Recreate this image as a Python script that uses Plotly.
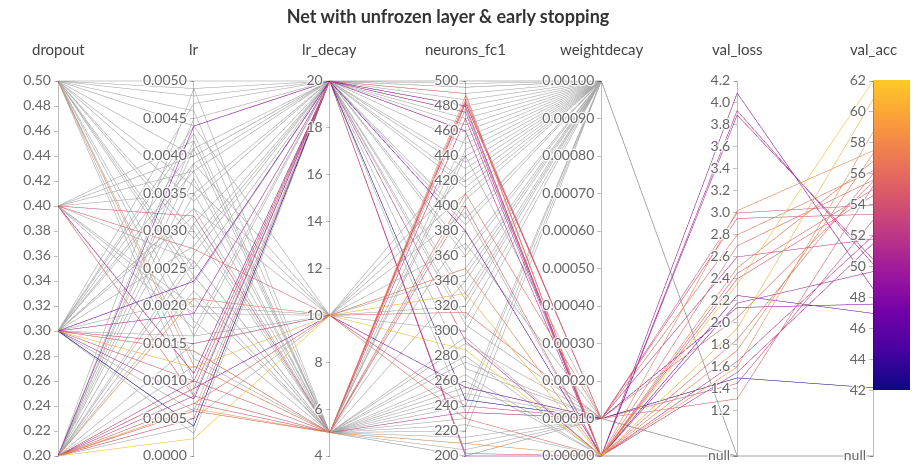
import plotly.graph_objects as go

title = "Net with unfrozen layer & early stopping"
dim_labels = ["dropout", "lr", "lr_decay", "neurons_fc1", "weightdecay", "val_loss", "val_acc"]

# ---- runs with results (coloured by val_acc) ----
c_dropout = [0.2, 0.3, 0.4, 0.4, 0.2, 0.2, 0.2, 0.3, 0.2, 0.3, 0.3, 0.4, 0.2,
             0.3, 0.2, 0.3, 0.2, 0.2, 0.3, 0.2, 0.5, 0.2, 0.3, 0.2, 0.2, 0.4]
c_lr = [0.0044, 0.0019, 0.0011, 0.0032, 0.0007, 0.0021, 0.0008, 0.00233, 0.0009,
        0.00076, 0.0004, 0.00276, 0.00023, 0.00118, 0.00063, 0.0014, 0.0009, 0.0006,
        0.0010, 0.0005, 0.0012, 0.0007, 0.0015, 0.0010, 0.0006, 0.0008]
c_lr_decay = [20, 20, 20, 5, 5, 10, 5, 20, 10, 20, 20, 10, 10,
              10, 5, 5, 20, 5, 5, 20, 5, 10, 10, 20, 5, 5]
c_neurons = [480, 475, 460, 485, 482, 350, 235, 380, 255, 200, 245, 315, 285,
             330, 210, 410, 490, 478, 400, 202, 488, 230, 240, 292, 470, 483]
c_wd = [0, 0, 0, 0.0001, 0.0001, 0, 0.0001, 0, 0.0001, 0, 0.0001, 0.0001, 0,
        0, 0, 0.0001, 0, 0, 0, 0, 0, 0, 0.0001, 0, 0, 0.0001]
c_val_loss = [4.09, 3.93, 3.89, 3.00, 2.95, 3.02, 2.60, 2.25, 2.14, 2.18, 1.50, 1.31, 2.35,
              1.95, 1.60, 2.80, 2.70, 2.50, 2.45, 2.40, 1.75, 1.85, 1.45, 1.65, 1.55, 2.05]
c_val_acc = [48.6, 50.2, 50.5, 54.0, 53.4, 57.5, 51.8, 47.0, 47.6, 49.7, 42.2, 55.2, 62.0,
             60.8, 58.7, 56.2, 55.6, 56.8, 55.0, 54.6, 57.3, 56.0, 53.0, 52.0, 51.5, 55.5]

# ---- runs without results (null val_loss / val_acc, drawn grey) ----
g_dropout = [0.5, 0.2, 0.5, 0.3, 0.5, 0.4, 0.2, 0.5, 0.3, 0.2, 0.5, 0.4, 0.3, 0.2, 0.5,
             0.3, 0.2, 0.4, 0.5, 0.3, 0.2, 0.2, 0.5, 0.3, 0.4, 0.2, 0.5, 0.3, 0.2, 0.5,
             0.4, 0.3, 0.2, 0.5, 0.2, 0.3, 0.4, 0.5, 0.2, 0.3, 0.5, 0.2, 0.4, 0.3, 0.5,
             0.2, 0.3, 0.5, 0.2, 0.4, 0.3, 0.5, 0.2, 0.3, 0.5, 0.2, 0.4, 0.3, 0.2, 0.5]
g_lr = [0.0050, 0.0049, 0.0013, 0.0047, 0.0036, 0.0042, 0.0004, 0.0024, 0.0041, 0.0039,
        0.0008, 0.0035, 0.0028, 0.0045, 0.0018, 0.0033, 0.0026, 0.0040, 0.0049, 0.0006,
        0.0022, 0.0031, 0.0016, 0.0043, 0.0011, 0.0037, 0.0029, 0.0021, 0.0015, 0.0044,
        0.0026, 0.0003, 0.0041, 0.0034, 0.0012, 0.0038, 0.0019, 0.0046, 0.0009, 0.0032,
        0.0040, 0.0024, 0.0017, 0.0044, 0.0030, 0.0035, 0.0014, 0.0025, 0.0042, 0.0020,
        0.0039, 0.0010, 0.0027, 0.0033, 0.0023, 0.0005, 0.0038, 0.0016, 0.0031, 0.0048]
g_lr_decay = [20, 20, 5, 20, 10, 5, 20, 5, 20, 10, 20, 5, 20, 20, 5,
              10, 5, 20, 5, 20, 5, 20, 10, 5, 20, 5, 20, 5, 10, 20,
              5, 20, 5, 20, 5, 20, 10, 5, 20, 5, 20, 5, 20, 10, 5,
              20, 5, 20, 5, 10, 20, 5, 20, 5, 20, 10, 5, 20, 5, 20]
g_neurons = [498, 470, 440, 495, 320, 255, 420, 380, 500, 300, 465, 215, 450, 360, 280,
             425, 205, 490, 340, 235, 455, 310, 395, 230, 270, 445, 480, 250, 410, 330,
             225, 475, 290, 435, 200, 385, 350, 260, 495, 405, 305, 220, 460, 370, 240,
             430, 265, 390, 210, 345, 485, 275, 415, 245, 325, 440, 200, 365, 295, 500]
g_wd = [0.001, 0.001, 0.0001, 0.001, 0.001, 0.0001, 0.001, 0, 0.001, 0.001,
        0.001, 0.0001, 0.001, 0.001, 0, 0.001, 0.0001, 0.001, 0.001, 0.0001,
        0.001, 0.001, 0, 0.001, 0.0001, 0.001, 0.001, 0.0001, 0.001, 0.001,
        0, 0.001, 0.0001, 0.001, 0.0001, 0.001, 0.001, 0, 0.001, 0.001,
        0.0001, 0.001, 0.001, 0.0001, 0.001, 0.001, 0, 0.001, 0.0001, 0.001,
        0.001, 0.0001, 0.001, 0.001, 0.001, 0.001, 0.0001, 0.001, 0, 0.001]
g_val_loss = [None] * len(g_dropout)
g_val_acc = [None] * len(g_dropout)

# ---- axis tick labels ----
dropout_ticks = [0.20, 0.22, 0.24, 0.26, 0.28, 0.30, 0.32, 0.34, 0.36, 0.38, 0.40,
                 0.42, 0.44, 0.46, 0.48, 0.50]
lr_ticks = [0.0, 0.0005, 0.0010, 0.0015, 0.0020, 0.0025, 0.0030, 0.0035, 0.0040, 0.0045, 0.0050]
lr_decay_ticks = [4, 6, 8, 10, 12, 14, 16, 18, 20]
neurons_ticks = list(range(200, 501, 20))
wd_ticks = [0.0, 0.0001, 0.0002, 0.0003, 0.0004, 0.0005, 0.0006, 0.0007, 0.0008, 0.0009, 0.0010]
val_loss_ticks = [1.2, 1.4, 1.6, 1.8, 2.0, 2.2, 2.4, 2.6, 2.8, 3.0, 3.2, 3.4, 3.6, 3.8, 4.0, 4.2]
val_acc_ticks = [42, 44, 46, 48, 50, 52, 54, 56, 58, 60, 62]

NULL_LOSS = 0.79
NULL_ACC = 37.8
ACC_MIN, ACC_MAX = 42, 62
GREY_VAL = 41.9

plasma = ['#0d0887', '#46039f', '#7201a8', '#9c179e', '#bd3786',
          '#d8576b', '#ed7953', '#fb9f3a', '#fdca26']
plasma_scale = [[i / (len(plasma) - 1), c] for i, c in enumerate(plasma)]
lo = 0.005
line_scale = [[0, '#aaaaaa'], [0.004, '#aaaaaa']] + \
             [[lo + (1 - lo) * i / (len(plasma) - 1), c] for i, c in enumerate(plasma)]

dropout = c_dropout + g_dropout
lr = c_lr + g_lr
lr_decay = c_lr_decay + g_lr_decay
neurons = c_neurons + g_neurons
wd = c_wd + g_wd
val_loss = [NULL_LOSS if v is None else v for v in c_val_loss + g_val_loss]
val_acc = [NULL_ACC if v is None else v for v in c_val_acc + g_val_acc]
colors = [GREY_VAL if v is None else v for v in c_val_acc + g_val_acc]

def fmt(v, d):
    return f"{v:.{d}f}"

dims = [
    dict(label="", values=dropout, range=[0.2, 0.5], tickvals=dropout_ticks,
         ticktext=[fmt(t, 2) for t in dropout_ticks]),
    dict(label="", values=lr, range=[0, 0.005], tickvals=lr_ticks,
         ticktext=[fmt(t, 4) for t in lr_ticks]),
    dict(label="", values=lr_decay, range=[4, 20], tickvals=lr_decay_ticks,
         ticktext=[str(t) for t in lr_decay_ticks]),
    dict(label="", values=neurons, range=[200, 500], tickvals=neurons_ticks,
         ticktext=[str(t) for t in neurons_ticks]),
    dict(label="", values=wd, range=[0, 0.001], tickvals=wd_ticks,
         ticktext=[fmt(t, 5) for t in wd_ticks]),
    dict(label="", values=val_loss, range=[NULL_LOSS, 4.2], tickvals=[NULL_LOSS] + val_loss_ticks,
         ticktext=["null"] + [fmt(t, 1) for t in val_loss_ticks]),
    dict(label="", values=val_acc, range=[NULL_ACC, 62], tickvals=[NULL_ACC] + val_acc_ticks,
         ticktext=["null"] + [str(t) for t in val_acc_ticks]),
]

# page body has an 8px margin; size the figure so it fills the 918x468 window
OFF = 8
W, H = 918 - OFF, 468 - OFF
ML, MR, MT, MB = 58 - OFF, 45, 79 - OFF, 10

fig = go.Figure()
fig.add_trace(go.Parcoords(
    dimensions=dims,
    line=dict(color=colors, colorscale=line_scale, cmin=GREY_VAL, cmax=ACC_MAX, showscale=False),
    tickfont=dict(family="Lato, sans-serif", size=14, color="#666666"),
    labelfont=dict(family="Lato, sans-serif", size=1, color="rgba(0,0,0,0)"),
    domain=dict(x=[0, 1], y=[0, 1]),
))

plot_h = H - MT - MB
cb_bottom = (H - MB - (390 - OFF)) / plot_h
cb_top = (H - MB - (80 - OFF)) / plot_h
fig.add_trace(go.Scatter(
    x=[None, None], y=[None, None], mode="markers", hoverinfo="skip", showlegend=False,
    marker=dict(color=[ACC_MIN, ACC_MAX], cmin=ACC_MIN, cmax=ACC_MAX, colorscale=plasma_scale,
                showscale=True,
                colorbar=dict(x=1.0, xanchor="left", xref="paper", y=cb_bottom, yanchor="bottom",
                              len=cb_top - cb_bottom, lenmode="fraction", thickness=45,
                              outlinewidth=0, showticklabels=False, ticks="", xpad=0, ypad=0)),
))

n = len(dim_labels)
for i, lab in enumerate(dim_labels):
    fig.add_annotation(x=i / (n - 1), y=(H - MB - (49 - OFF)) / plot_h, xref="paper", yref="paper",
                       text=lab, showarrow=False, xanchor="center", yanchor="middle",
                       font=dict(family="Lato, sans-serif", size=15, color="#444444"))

fig.update_layout(
    width=W, height=H,
    margin=dict(l=ML, r=MR, t=MT, b=MB, autoexpand=False),
    paper_bgcolor="white", plot_bgcolor="white",
    title=dict(text="<b>" + title + "</b>", x=(448 - OFF) / W, xanchor="center",
               y=1 - (17 - OFF) / H, yanchor="middle",
               font=dict(family="Lato, sans-serif", size=18, color="#333333")),
    xaxis=dict(visible=False), yaxis=dict(visible=False),
)

fig.write_html("out.html")
